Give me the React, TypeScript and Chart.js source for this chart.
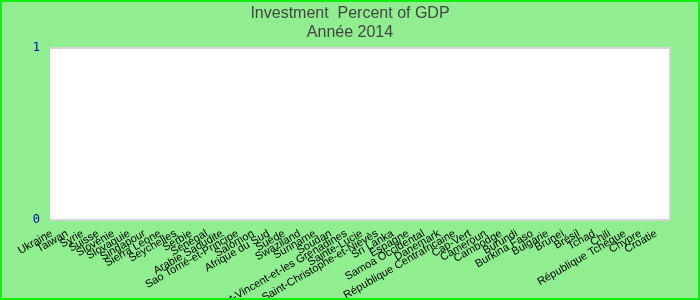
import React, { useEffect, useRef } from "react";
import { Chart, registerables } from "chart.js";

Chart.register(...registerables);

const categories: string[] = [
  "Ukraine", "Taiwan", "Syrie", "Suisse", "Slovénie", "Slovaquie", "Singapour",
  "Sierra Leone", "Seychelles", "Serbie", "Sénégal", "Arabie Saoudite",
  "Sao Tomé-et-Principe", "Salomon", "Afrique du Sud", "Suède", "Swaziland",
  "Suriname", "Soudan", "Saint-Vincent-et-les Grenadines", "Sainte-Lucie",
  "Saint-Christophe-et-Niévès", "Sri Lanka", "Espagne", "Samoa Occidental",
  "Danemark", "République Centrafricaine", "Cap-Vert", "Cameroun", "Cambodge",
  "Burundi", "Burkina Faso", "Bulgarie", "Brunei", "Brésil", "Tchad", "Chili",
  "République Tchèque", "Chypre", "Croatie",
];

const investmentValues: number[] = [
  0, 0, 0, 0, 0, 0, 0, 0, 0, 0, 0, 0, 0, 0, 0, 0, 0, 0, 0, 0,
  0, 0, 0, 0, 0, 0, 0, 0, 0, 0, 0, 0, 0, 0, 0, 0, 0, 0, 0, 0,
];

const titleLines: string[] = ["Investment  Percent of GDP", "Année 2014"];
const yTickValues: number[] = [0, 1];

const bgPlugin = {
  id: "bgPlugin",
  beforeDraw(chart: any) {
    const { ctx, width, height, chartArea } = chart;
    ctx.save();
    ctx.fillStyle = "#90EE90";
    ctx.fillRect(0, 0, width, height);
    ctx.fillStyle = "#ffffff";
    ctx.fillRect(chartArea.left, chartArea.top, chartArea.right - chartArea.left, chartArea.bottom - chartArea.top);
    ctx.strokeStyle = "#d3d3d3";
    ctx.lineWidth = 2;
    ctx.beginPath();
    ctx.moveTo(chartArea.left, chartArea.top);
    ctx.lineTo(chartArea.right, chartArea.top);
    ctx.lineTo(chartArea.right, chartArea.bottom);
    ctx.lineTo(chartArea.left, chartArea.bottom);
    ctx.stroke();
    ctx.restore();
  },
  afterDraw(chart: any) {
    const { ctx, width, height } = chart;
    ctx.save();
    ctx.strokeStyle = "#11ee11";
    ctx.lineWidth = 2;
    ctx.strokeRect(1, 1, width - 2, height - 2);
    ctx.restore();
  },
};

export default function App() {
  const ref = useRef<HTMLCanvasElement | null>(null);
  useEffect(() => {
    if (!ref.current) return;
    const chart = new Chart(ref.current, {
      type: "bar",
      data: {
        labels: categories,
        datasets: [
          {
            label: "Investment",
            data: investmentValues,
            backgroundColor: "#4472c4",
            yAxisID: "y",
          },
        ],
      },
      plugins: [bgPlugin],
      options: {
        animation: false,
        responsive: false,
        maintainAspectRatio: false,
        layout: { padding: 0 },
        plugins: {
          legend: { display: false },
          tooltip: { enabled: false },
          title: {
            display: true,
            text: titleLines,
            color: "#444444",
            font: { family: "'Liberation Sans', Arial, sans-serif", size: 16, weight: "normal", lineHeight: 1.2 },
            padding: { top: 4, bottom: 5.6 },
          },
        },
        scales: {
          x: {
            grid: { display: false, drawTicks: false },
            border: { display: false },
            ticks: {
              autoSkip: false,
              minRotation: 30,
              maxRotation: 30,
              color: "#000000",
              padding: 7,
              labelOffset: -6,
              font: { family: "'Liberation Sans', Arial, sans-serif", size: 11 },
            },
            afterFit(scale: any) {
              scale.height = 80;
            },
          },
          y: {
            min: 0,
            max: 1,
            afterBuildTicks(scale: any) {
              scale.ticks = yTickValues.map((v) => ({ value: v }));
            },
            grid: { display: false, drawTicks: false },
            border: { display: false },
            ticks: {
              color: "#0000aa",
              padding: 10,
              font: { family: "'DejaVu Sans Mono', monospace", size: 12 },
            },
            afterFit(scale: any) {
              scale.width = 50;
            },
          },
          yRight: {
            position: "right",
            min: 0,
            max: 1,
            grid: { display: false, drawTicks: false },
            border: { display: false },
            ticks: { display: false },
            afterFit(scale: any) {
              scale.width = 30;
            },
          },
        },
      },
    });
    return () => chart.destroy();
  }, []);
  return (
    <div style={{ position: "fixed", left: 0, top: 0, width: 700, height: 300 }}>
      <canvas ref={ref} width={700} height={300} style={{ width: 700, height: 300 }} />
    </div>
  );
}
